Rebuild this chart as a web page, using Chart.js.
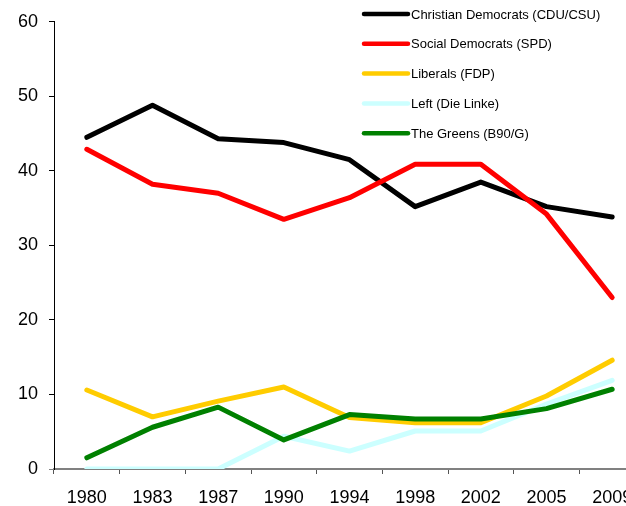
<!DOCTYPE html>
<html lang="en">
<head>
    <meta charset="UTF-8" />
    <title>German federal elections</title>
    <script src="https://cdn.jsdelivr.net/npm/chart.js"></script>
    <style>
        html, body { margin: 0; padding: 0; overflow: hidden; background: #fff; }
        /* the plot runs past the right edge of the window, as in the original */
        #wrap { width: 660px; height: 506px; }
    </style>
</head>
<body>
<div id="wrap"><canvas id="chart"></canvas></div>

<script>
    const years = ["1980", "1983", "1987", "1990", "1994", "1998", "2002", "2005", "2009"];
    const yTicks = [0, 10, 20, 30, 40, 50, 60];

    const cdu    = [44.5, 48.8, 44.3, 43.8, 41.5, 35.2, 38.5, 35.2, 33.8];
    const spd    = [42.9, 38.2, 37.0, 33.5, 36.4, 40.9, 40.9, 34.2, 23.0];
    const fdp    = [10.6, 7.0, 9.1, 11.0, 6.9, 6.2, 6.2, 9.8, 14.6];
    const left   = [0, 0, 0, 4.4, 2.4, 5.1, 5.1, 8.7, 11.9];
    const greens = [1.5, 5.6, 8.3, 3.9, 7.3, 6.7, 6.7, 8.1, 10.7];

    const FONT = '"Liberation Sans", Arial, sans-serif';

    function series(label, data, color, order) {
        return {
            label, data,
            borderColor: color,
            backgroundColor: color,
            borderWidth: 5,
            borderCapStyle: 'round',
            borderJoinStyle: 'round',
            pointRadius: 0,
            tension: 0,
            order
        };
    }

    // legend drawn by hand, top right inside the plot
    const legendPlugin = {
        id: 'cornerLegend',
        afterDraw(chart) {
            const ctx = chart.ctx;
            ctx.save();
            ctx.font = '13px ' + FONT;
            ctx.textBaseline = 'middle';
            chart.data.datasets.forEach((ds, i) => {
                const y = 14 + i * 29.8;
                ctx.strokeStyle = ds.borderColor;
                ctx.lineWidth = 4.5;
                ctx.lineCap = 'round';
                ctx.beginPath();
                ctx.moveTo(364, y);
                ctx.lineTo(408, y);
                ctx.stroke();
                ctx.fillStyle = '#000';
                ctx.fillText(ds.label, 411, y + 1);
            });
            ctx.restore();
        }
    };

    new Chart(document.getElementById('chart'), {
        type: 'line',
        data: {
            labels: years,
            datasets: [
                series('Christian Democrats (CDU/CSU)', cdu, '#000000', 5),
                series('Social Democrats (SPD)', spd, '#ff0000', 4),
                series('Liberals (FDP)', fdp, '#ffcc00', 3),
                series('Left (Die Linke)', left, '#ccffff', 2),
                series('The Greens (B90/G)', greens, '#008000', 1)
            ]
        },
        options: {
            responsive: true,
            maintainAspectRatio: false,
            animation: false,
            layout: { padding: { left: 0, right: 15, top: 19, bottom: 0 } },
            scales: {
                x: {
                    offset: true,
                    grid: { display: true, offset: true, drawOnChartArea: false, tickLength: 5, color: '#555' },
                    border: { display: true, color: '#808080', width: 2 },
                    ticks: { color: '#000', font: { family: FONT, size: 18 }, padding: 13, maxRotation: 0, autoSkip: false },
                    afterFit(scale) { scale.height = 37; }
                },
                y: {
                    min: 0,
                    max: 60,
                    afterBuildTicks(scale) { scale.ticks = yTicks.map(v => ({ value: v })); },
                    grid: {
                        drawOnChartArea: false, tickLength: 5,
                        color: ctx => (ctx.tick && ctx.tick.value === 0 ? '#808080' : '#000')
                    },
                    border: { display: true, color: '#000', width: 1 },
                    ticks: { color: '#000', font: { family: FONT, size: 18 }, padding: 11 },
                    afterFit(scale) { scale.width = 54; }
                }
            },
            plugins: {
                legend: { display: false },
                tooltip: { enabled: false }
            }
        },
        plugins: [legendPlugin]
    });
</script>
</body>
</html>
